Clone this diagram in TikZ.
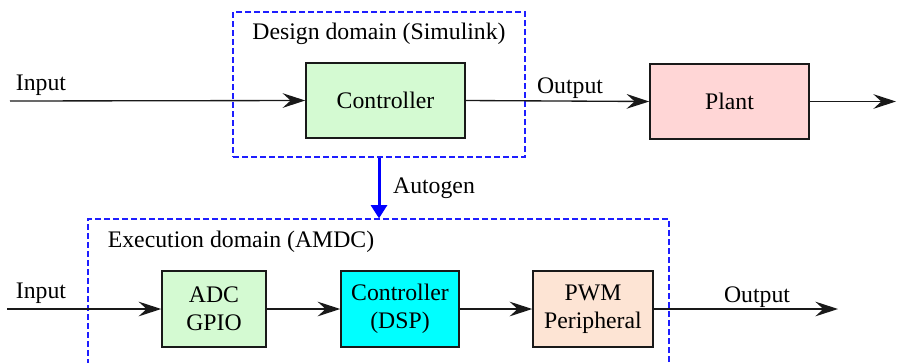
\documentclass[tikz,border=0pt]{standalone}
\usepackage{fontspec}
\setmainfont{Liberation Serif}
\usetikzlibrary{arrows.meta}
\definecolor{boxgreen}{RGB}{212,250,210}
\definecolor{boxpink}{RGB}{255,214,214}
\definecolor{boxpeach}{RGB}{253,228,212}
\definecolor{boxcyan}{RGB}{0,255,255}
\definecolor{dashblue}{RGB}{30,30,255}
\definecolor{autoblue}{RGB}{0,0,255}
\definecolor{ink}{RGB}{25,25,25}
\begin{document}
\begin{tikzpicture}[x=0.75pt,y=-0.75pt,
  font=\rmfamily\fontsize{17.8}{21}\selectfont,
  blk/.style={draw=ink, line width=1.1pt, inner sep=0pt, align=center, font=\rmfamily\fontsize{17.8}{21}\selectfont},
  dombox/.style={draw=dashblue, line width=0.9pt, dash pattern=on 4.5pt off 2.25pt, inner sep=0pt},
  arr/.style={draw=ink, line width=1pt, -{Stealth[length=17pt,width=11pt,inset=6pt]}},
  lbl/.style={anchor=base, inner sep=0pt}]
\useasboundingbox (0,0) rectangle (897,362);
\clip (0,0) rectangle (897,362);
% domains
\node[dombox, minimum width=219pt, minimum height=108.75pt] (design) at (379,84.5) {};
\node[dombox, minimum width=435.75pt, minimum height=150.75pt] (exec) at (378.5,319.5) {};
% top row
\node[blk, fill=boxgreen, minimum width=119.25pt, minimum height=56.25pt] (ctrl) at (385.5,100.5) {Controller};
\node[blk, fill=boxpink, minimum width=119.25pt, minimum height=56.25pt] (plant) at (729.5,101.5) {Plant};
\coordinate (in1) at (10,101);
\coordinate (out1) at (896,101.5);
\draw[arr] (in1) -- (ctrl.west);
\draw[arr] (ctrl.east) -- (plant.west);
\draw[arr] (plant.east) -- (out1);
\node[lbl] (tin1) at (41,90) {Input};
\node[lbl] (tout1) at (570,93) {Output};
\node[lbl] (tdesign) at (379,39) {Design domain (Simulink)};
% autogen
\draw[draw=autoblue, line width=2.25pt, -{Triangle[length=10pt,width=12pt]}] (design.south) -- (design.south |- exec.north);
\node[lbl] (tauto) at (434,193) {Autogen};
% bottom row
\node[lbl] (texec) at (241,247) {Execution domain (AMDC)};
\node[blk, fill=boxgreen, minimum width=78pt, minimum height=57pt] (adc) at (214,309) {ADC\\GPIO};
\node[blk, fill=boxcyan, minimum width=88.5pt, minimum height=57pt] (dsp) at (400,309) {Controller\\(DSP)};
\node[blk, fill=boxpeach, minimum width=90pt, minimum height=57pt] (pwm) at (593,309) {PWM\\Peripheral};
\coordinate (in2) at (7,309);
\coordinate (out2) at (838,309);
\draw[arr] (in2) -- (adc.west);
\draw[arr] (adc.east) -- (dsp.west);
\draw[arr] (dsp.east) -- (pwm.west);
\draw[arr] (pwm.east) -- (out2);
\node[lbl] (tin2) at (41,298) {Input};
\node[lbl] (tout2) at (757,302) {Output};
\end{tikzpicture}
\end{document}
